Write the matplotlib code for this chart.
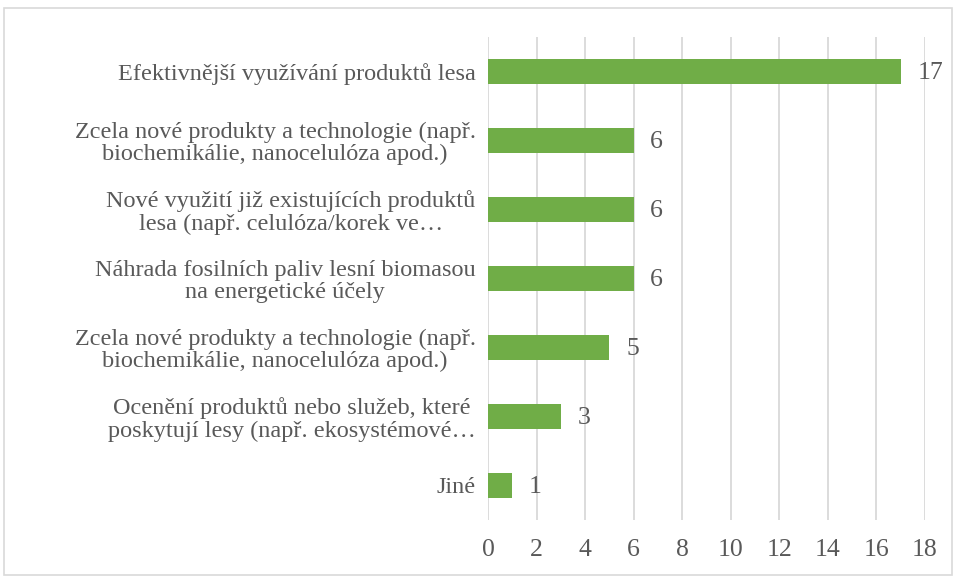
import matplotlib.pyplot as plt
from matplotlib.patches import Rectangle

# categories top to bottom, as shown in the chart
categories = [
    "Efektivnější využívání produktů lesa",
    "Zcela nové produkty a technologie (např.\nbiochemikálie, nanocelulóza apod.)",
    "Nové využití již existujících produktů\nlesa (např. celulóza/korek ve…",
    "Náhrada fosilních paliv lesní biomasou\nna energetické účely",
    "Zcela nové produkty a technologie (např.\nbiochemikálie, nanocelulóza apod.)",
    "Ocenění produktů nebo služeb, které\nposkytují lesy (např. ekosystémové…",
    "Jiné",
]
values = [17, 6, 6, 6, 5, 3, 1]
x_ticks = list(range(0, 20, 2))

plt.rcParams["font.family"] = ["Liberation Serif", "DejaVu Serif"]
text_color = "#595959"
fs = 17.5

fig = plt.figure(figsize=(9.56, 5.79), dpi=100)
ax = fig.add_axes([0.5105, 0.1019, 0.4571, 0.8342])

pos = list(range(len(categories)))[::-1]
ax.barh(pos, values, height=0.35, color="#70AD47", zorder=3)

for p, v in zip(pos, values):
    ax.annotate(str(v), (v, p), xytext=(12, -1), textcoords="offset points",
                va="center", ha="left", fontsize=fs + 1, color=text_color)

ax.set_xlim(0, 18)
ax.set_ylim(-0.5, len(categories) - 0.5)
ax.set_xticks(x_ticks)
ax.set_xticklabels([str(t) for t in x_ticks], fontsize=fs + 1, color=text_color)
ax.set_yticks(pos)
ax.set_yticklabels(categories, fontsize=fs, color=text_color,
                   multialignment="center", linespacing=1.08)
ax.tick_params(axis="both", length=0)
ax.tick_params(axis="x", pad=14)
ax.tick_params(axis="y", pad=9)

ax.grid(axis="x", color="#d9d9d9", linewidth=1.3, zorder=0)
for s in ax.spines.values():
    s.set_visible(False)

# light frame around the whole chart
fig.patches.append(Rectangle((0.004, 0.007), 0.992, 0.98, transform=fig.transFigure,
                             fill=False, edgecolor="#d9d9d9", linewidth=1.2))

fig.savefig("out.png", dpi=100)
